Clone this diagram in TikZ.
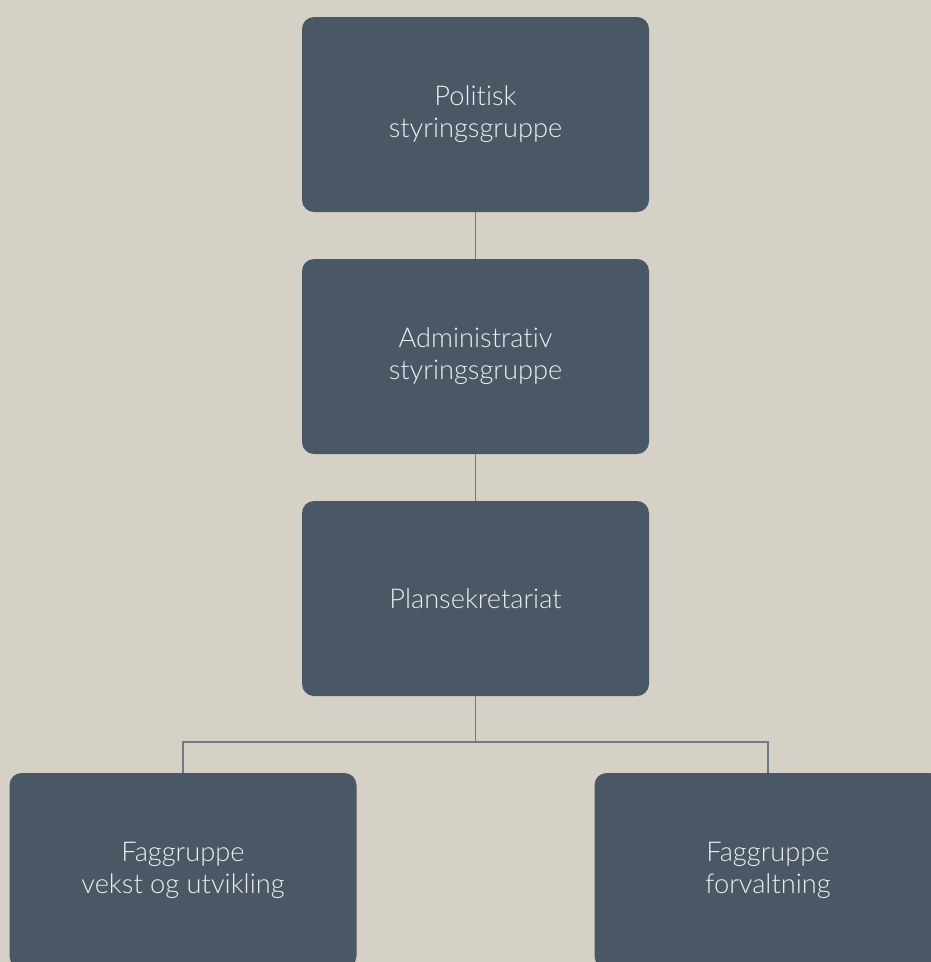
\documentclass[tikz,border=0pt]{standalone}
\usepackage{fontspec}
\setmainfont{Lato}[UprightFont=* Light, RawFeature=-liga]
\definecolor{bakgrunn}{HTML}{D5D1C6}
\definecolor{boks}{HTML}{4A5866}
\definecolor{linje}{HTML}{6F7A84}
\tikzset{
  gruppe/.style={rectangle, rounded corners=0.24cm, fill=boks, text=white!93!black,
    minimum width=6.94cm, minimum height=3.9cm, align=center, inner sep=0pt,
    font=\fontsize{15.5}{18.3}\selectfont},
  kobling/.style={draw=linje, line width=0.8pt}
}
\begin{document}
\begin{tikzpicture}
    \fill[bakgrunn] (0,0) rectangle (18.62,-19.24);
    \useasboundingbox (0,0) rectangle (18.62,-19.24);
    \clip (0,0) rectangle (18.62,-19.24);

    \node[gruppe] (politisk) at (9.51,-2.29) {Politisk\\styringsgruppe};
    \node[gruppe] (admin) at (9.51,-7.13) {Administrativ\\styringsgruppe};
    \node[gruppe] (plan) at (9.51,-11.97) {Plansekretariat};
    \node[gruppe] (vekst) at (3.66,-17.41) {Faggruppe\\vekst og utvikling};
    \node[gruppe] (forv) at (15.36,-17.41) {Faggruppe\\forvaltning};

    \coordinate (knute) at (9.51,-14.84);

    \draw[kobling] (politisk) -- (admin);
    \draw[kobling] (admin) -- (plan);
    \draw[kobling] (plan) -- (knute);
    \draw[kobling] (vekst.north) |- (knute) -| (forv.north);
\end{tikzpicture}
\end{document}
